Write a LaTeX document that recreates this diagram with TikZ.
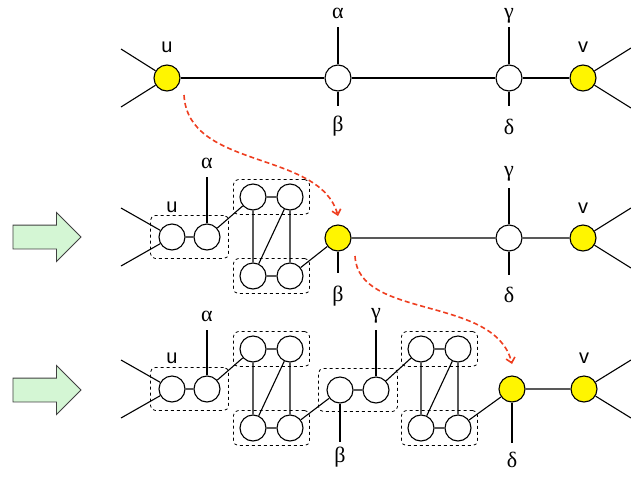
\documentclass[tikz,border=0pt]{standalone}
\usepackage{fontspec}
\setsansfont{Liberation Sans}
\newfontfamily\greekfont{Liberation Serif}
\usetikzlibrary{arrows.meta, shapes.arrows, fit}

\definecolor{nodeyellow}{RGB}{255,245,0}
\definecolor{hopred}{RGB}{238,62,32}
\definecolor{arrowgreen}{RGB}{212,246,212}

\begin{document}
\begin{tikzpicture}[x=1pt,y=-1pt,>=latex,line width=1.1pt,
  vtx/.style={circle,draw,line width=1.1pt,fill=white,minimum size=26pt,inner sep=0pt},
  term/.style={vtx,fill=nodeyellow},
  grp/.style={draw,dashed,line width=0.8pt,rounded corners=5pt,inner sep=8pt},
  pairbox/.style={grp,inner xsep=6pt,inner ysep=4pt},
  hop/.style={hopred,line width=1.6pt,dash pattern=on 5pt off 3pt,-{Straight Barb[length=5pt,width=9pt]}},
  steparrow/.style={single arrow,draw=black!75,fill=arrowgreen,line width=0.9pt,
    minimum height=68pt,inner xsep=0pt,inner ysep=11.5pt,single arrow head extend=12.5pt},
  endlbl/.style={font=\sffamily\fontsize{20}{20}\selectfont},
  greek/.style={font=\greekfont\fontsize{22}{22}\selectfont}]
\useasboundingbox (0,0) rectangle (631,477);

% top row
\node[term] (u1) at (167,78) {};
\node[vtx] (a1) at (338,78) {};
\node[vtx] (g1) at (509,78) {};
\node[term] (v1) at (583,78) {};
\draw (u1) -- (a1) -- (g1) -- (v1);
\coordinate (u1l) at (121,49);
\coordinate (u1m) at (121,107);
\coordinate (v1l) at (631,48);
\coordinate (v1m) at (631,108);
\draw (u1l) -- (u1) -- (u1m);
\draw (v1l) -- (v1) -- (v1m);
\coordinate (a1t) at (338,27);
\coordinate (a1b) at (338,106);
\coordinate (g1t) at (509,27);
\coordinate (g1b) at (509,106);
\draw (a1t) -- (a1) -- (a1b);
\draw (g1t) -- (g1) -- (g1b);
\node[endlbl] (lu1) at (167,47) {u};
\node[endlbl] (lv1) at (583,47) {v};
\node[greek] (la1) at (338,13) {α};
\node[greek] (lb1) at (338,126) {β};
\node[greek] (lg1) at (509,16) {γ};
\node[greek] (ld1) at (509,127) {δ};

% middle row
\node[vtx] (b1) at (172,237) {};
\node[vtx] (b2) at (207,237) {};
\node[vtx] (b3) at (253,197) {};
\node[vtx] (b4) at (290,197) {};
\node[vtx] (b5) at (253,276) {};
\node[vtx] (b6) at (290,276) {};
\node[term] (w2) at (338,238) {};
\node[vtx] (g2) at (509,238) {};
\node[term] (v2) at (583,238) {};
\node[grp, fit=(b1)(b2)] (k1) {};
\node[pairbox, fit=(b3)(b4)] (k2) {};
\node[pairbox, fit=(b5)(b6)] (k3) {};
\draw (b1) -- (b2) -- (b3) -- (b4) -- (b6) -- (b5) -- (b3);
\draw (b4) -- (b5);
\draw (b6) -- (w2) -- (g2) -- (v2);
\coordinate (b1l) at (121,208);
\coordinate (b1m) at (121,266);
\coordinate (v2l) at (631,208);
\coordinate (v2m) at (631,268);
\draw (b1l) -- (b1) -- (b1m);
\draw (v2l) -- (v2) -- (v2m);
\coordinate (b2t) at (207,177);
\coordinate (w2b) at (338,273);
\coordinate (g2t) at (509,188);
\coordinate (g2b) at (509,275);
\draw (b2) -- (b2t);
\draw (w2) -- (w2b);
\draw (g2t) -- (g2) -- (g2b);
\node[endlbl] (lu2) at (172,207) {u};
\node[endlbl] (lv2) at (583,208) {v};
\node[greek] (la2) at (207,163) {α};
\node[greek] (lb2) at (338,296) {β};
\node[greek] (lg2) at (509,174) {γ};
\node[greek] (ld2) at (509,295) {δ};

% bottom row
\node[vtx] (c1) at (172,389) {};
\node[vtx] (c2) at (207,389) {};
\node[vtx] (c3) at (253,349) {};
\node[vtx] (c4) at (290,349) {};
\node[vtx] (c5) at (253,428) {};
\node[vtx] (c6) at (290,428) {};
\node[vtx] (c7) at (340,390) {};
\node[vtx] (c8) at (376,390) {};
\node[vtx] (c9) at (421,349) {};
\node[vtx] (c10) at (458,349) {};
\node[vtx] (c11) at (421,428) {};
\node[vtx] (c12) at (458,428) {};
\node[term] (w3) at (512,389) {};
\node[term] (v3) at (584,389) {};
\node[grp, fit=(c1)(c2)] (m1) {};
\node[pairbox, fit=(c3)(c4)] (m2) {};
\node[pairbox, fit=(c5)(c6)] (m3) {};
\node[grp, fit=(c7)(c8)] (m4) {};
\node[pairbox, fit=(c9)(c10)] (m5) {};
\node[pairbox, fit=(c11)(c12)] (m6) {};
\draw (c1) -- (c2) -- (c3) -- (c4) -- (c6) -- (c5) -- (c3);
\draw (c4) -- (c5);
\draw (c6) -- (c7) -- (c8) -- (c9) -- (c10) -- (c12) -- (c11) -- (c9);
\draw (c10) -- (c11);
\draw (c12) -- (w3) -- (v3);
\coordinate (c1l) at (121,360);
\coordinate (c1m) at (121,418);
\coordinate (v3l) at (631,360);
\coordinate (v3m) at (631,418);
\draw (c1l) -- (c1) -- (c1m);
\draw (v3l) -- (v3) -- (v3m);
\coordinate (c2t) at (207,330);
\coordinate (c7b) at (340,442);
\coordinate (c8t) at (376,330);
\coordinate (w3b) at (512,443);
\draw (c2) -- (c2t);
\draw (c7) -- (c7b);
\draw (c8) -- (c8t);
\draw (w3) -- (w3b);
\node[endlbl] (lu3) at (172,358) {u};
\node[endlbl] (lv3) at (584,358) {v};
\node[greek] (la3) at (207,316) {α};
\node[greek] (lb3) at (340,457) {β};
\node[greek] (lg3) at (376,316) {γ};
\node[greek] (ld3) at (512,460) {δ};

% moves of the terminal
\coordinate (h1s) at (184,95);
\coordinate (h1e) at (338,216);
\coordinate (h2s) at (355,256);
\coordinate (h2e) at (512,364);
\draw[hop] (h1s) .. controls (188,170) and (320,150) .. (h1e);
\draw[hop] (h2s) .. controls (358,320) and (495,295) .. (h2e);

% step arrows
\node[steparrow] (s1) at (41,237) {};
\node[steparrow] (s2) at (41,390) {};
\end{tikzpicture}
\end{document}
